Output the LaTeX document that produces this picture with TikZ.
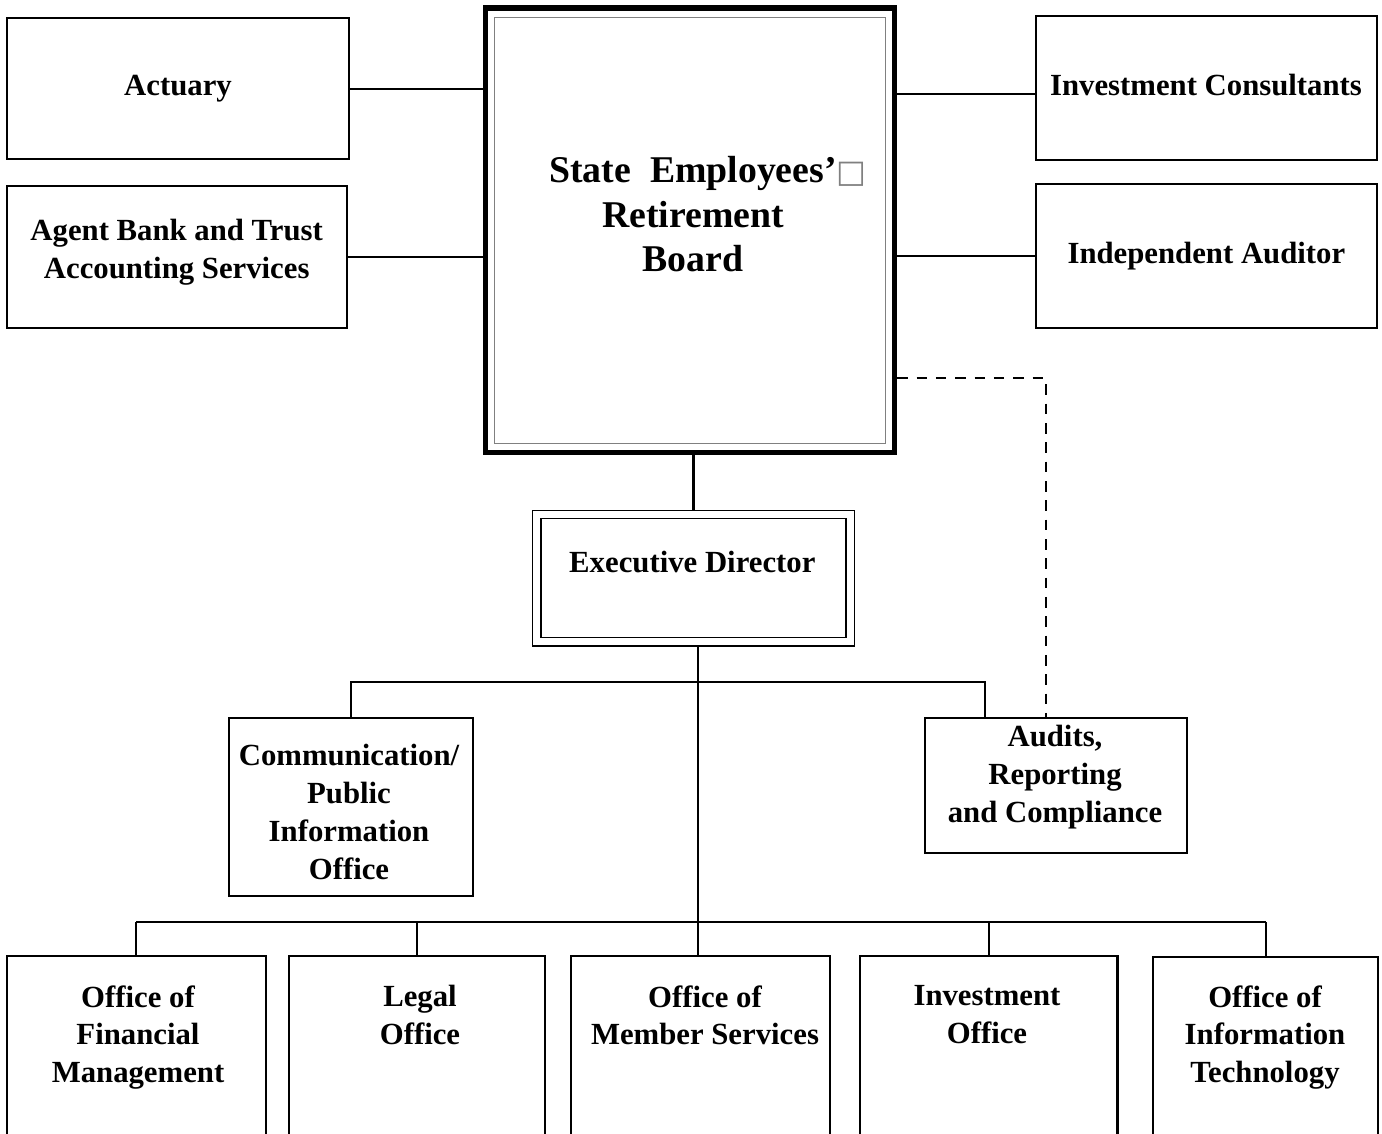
\documentclass[tikz,border=0pt]{standalone}
\usepackage{fontspec}
\setmainfont{Liberation Serif}
\newfontfamily\squarefont{DejaVu Sans}
\usetikzlibrary{calc,positioning}
\tikzstyle{orgbox} = [rectangle,draw=black,line width=1.2pt,align=center,inner sep=0pt,font=\bfseries\fontsize{17.5}{21.5}\selectfont]
\tikzstyle{boardbox} = [rectangle,draw=black,line width=3.2pt]
\tikzstyle{boardin} = [rectangle,draw=gray,line width=0.6pt]
\tikzstyle{edbox} = [rectangle,draw=black,line width=0.85pt,double,double distance=3.9pt,outer sep=2.8pt]
\tikzstyle{lbl} = [align=center,inner sep=0pt,font=\bfseries\fontsize{17.5}{21.5}\selectfont]
\tikzstyle{link} = [line width=1.2pt]
\tikzstyle{dashlink} = [line width=1.1pt,dash pattern=on 6pt off 5pt]

\begin{document}
\begin{tikzpicture}[x=0.02cm,y=-0.02cm]
\useasboundingbox (0,0) rectangle (1382,1133);

% board
\node (board) [boardbox,minimum width=8.18cm,minimum height=8.886cm] at (690,230.2) {};
\node (boardinner) [boardin,minimum width=7.806cm,minimum height=8.52cm] at (board) {};
\node (boardtxt) [lbl,font=\bfseries\fontsize{21.5}{25.2}\selectfont,anchor=south] at (693,272)
  {\hspace*{0.6cm}State\ \ Employees'{\squarefont\fontsize{18}{18}\selectfont\color{gray}□}\\Retirement\\Board};

% outside advisers
\node (actuary) [orgbox,minimum width=6.846cm,minimum height=2.82cm] at (178,88.8) {Actuary};
\node (agent) [orgbox,minimum width=6.8cm,minimum height=2.852cm] at (176.7,257) {};
\node (agenttxt) [lbl] at (176.7,252) {Agent Bank and Trust\\Accounting Services};
\node (ic) [orgbox,minimum width=6.814cm,minimum height=2.88cm] at (1206.4,88) {};
\node (ictxt) [lbl,anchor=base] at (1206,95) {Investment Consultants};
\node (ia) [orgbox,minimum width=6.814cm,minimum height=2.88cm] at (1206.4,256.3) {Independent Auditor};

% executive director
\node (ed) [edbox,minimum width=6.27cm,minimum height=2.545cm] at (693.5,578.1) {};
\node (edtxt) [lbl,anchor=base] at (692.3,572.7) {Executive Director};

\node (comm) [orgbox,minimum width=4.886cm,minimum height=3.548cm] at (351.2,807) {};
\node (commtxt) [lbl,anchor=north] at (349,744) {Communication/\\Public\\Information\\Office};
\node (audits) [orgbox,minimum width=5.234cm,minimum height=2.688cm] at (1055.8,785.5) {};
\node (auditstxt) [lbl,anchor=north] at (1055,725) {Audits,\\Reporting\\and Compliance};

% offices
\node (fin) [orgbox,minimum width=5.174cm,minimum height=4.19cm] at (136.3,1060.4) {};
\node (legal) [orgbox,minimum width=5.106cm,minimum height=4.19cm] at (417,1060.4) {};
\node (member) [orgbox,minimum width=5.18cm,minimum height=4.19cm] at (700.9,1060.4) {};
\node (invest) [orgbox,minimum width=5.156cm,minimum height=4.19cm] at (988.6,1060.4) {};
\node (it) [orgbox,minimum width=4.494cm,minimum height=4.19cm] at (1265.7,1062.1) {};

\node (fintxt) [lbl,anchor=north] at (138,985) {Office of\\Financial\\Management};
\node (legaltxt) [lbl,anchor=north] at (420,985) {Legal\\Office};
\node (membertxt) [lbl,anchor=north] at (705,985) {Office of\\Member Services};
\node (investtxt) [lbl,anchor=north] at (987,985) {Investment\\Office};
\node (ittxt) [lbl,anchor=north] at (1265,985) {Office of\\Information\\Technology};

\coordinate (icin) at ($(ic.west)+(0,6)$);
\coordinate (bus1) at (985,682.3);
\coordinate (bus2) at (697.7,922.3);

\draw [link] (actuary.east) -- (actuary.east -| board.west);
\draw [link] (agent.east) -- (agent.east -| board.west);
\draw [link] (icin) -- (icin -| board.east);
\draw [link] (ia.west) -- (ia.west -| board.east);
\draw [dashlink] (board.east |- 0,378.3) -| ($(audits.north)+(-10,0)$);

\draw [link] (ed.north) -- (ed.north |- board.south);
\draw [link] (ed.south -| bus2) -- (bus2 |- member.north);
\draw [link] (comm.north) |- (bus1) -- (bus1 |- audits.north);

\foreach \b in {fin,legal,invest,it}
{
  \draw [link] (\b.north) -- (\b.north |- bus2);
}
\draw [link] (fin.north |- bus2) -- (it.north |- bus2);

\end{tikzpicture}
\end{document}
